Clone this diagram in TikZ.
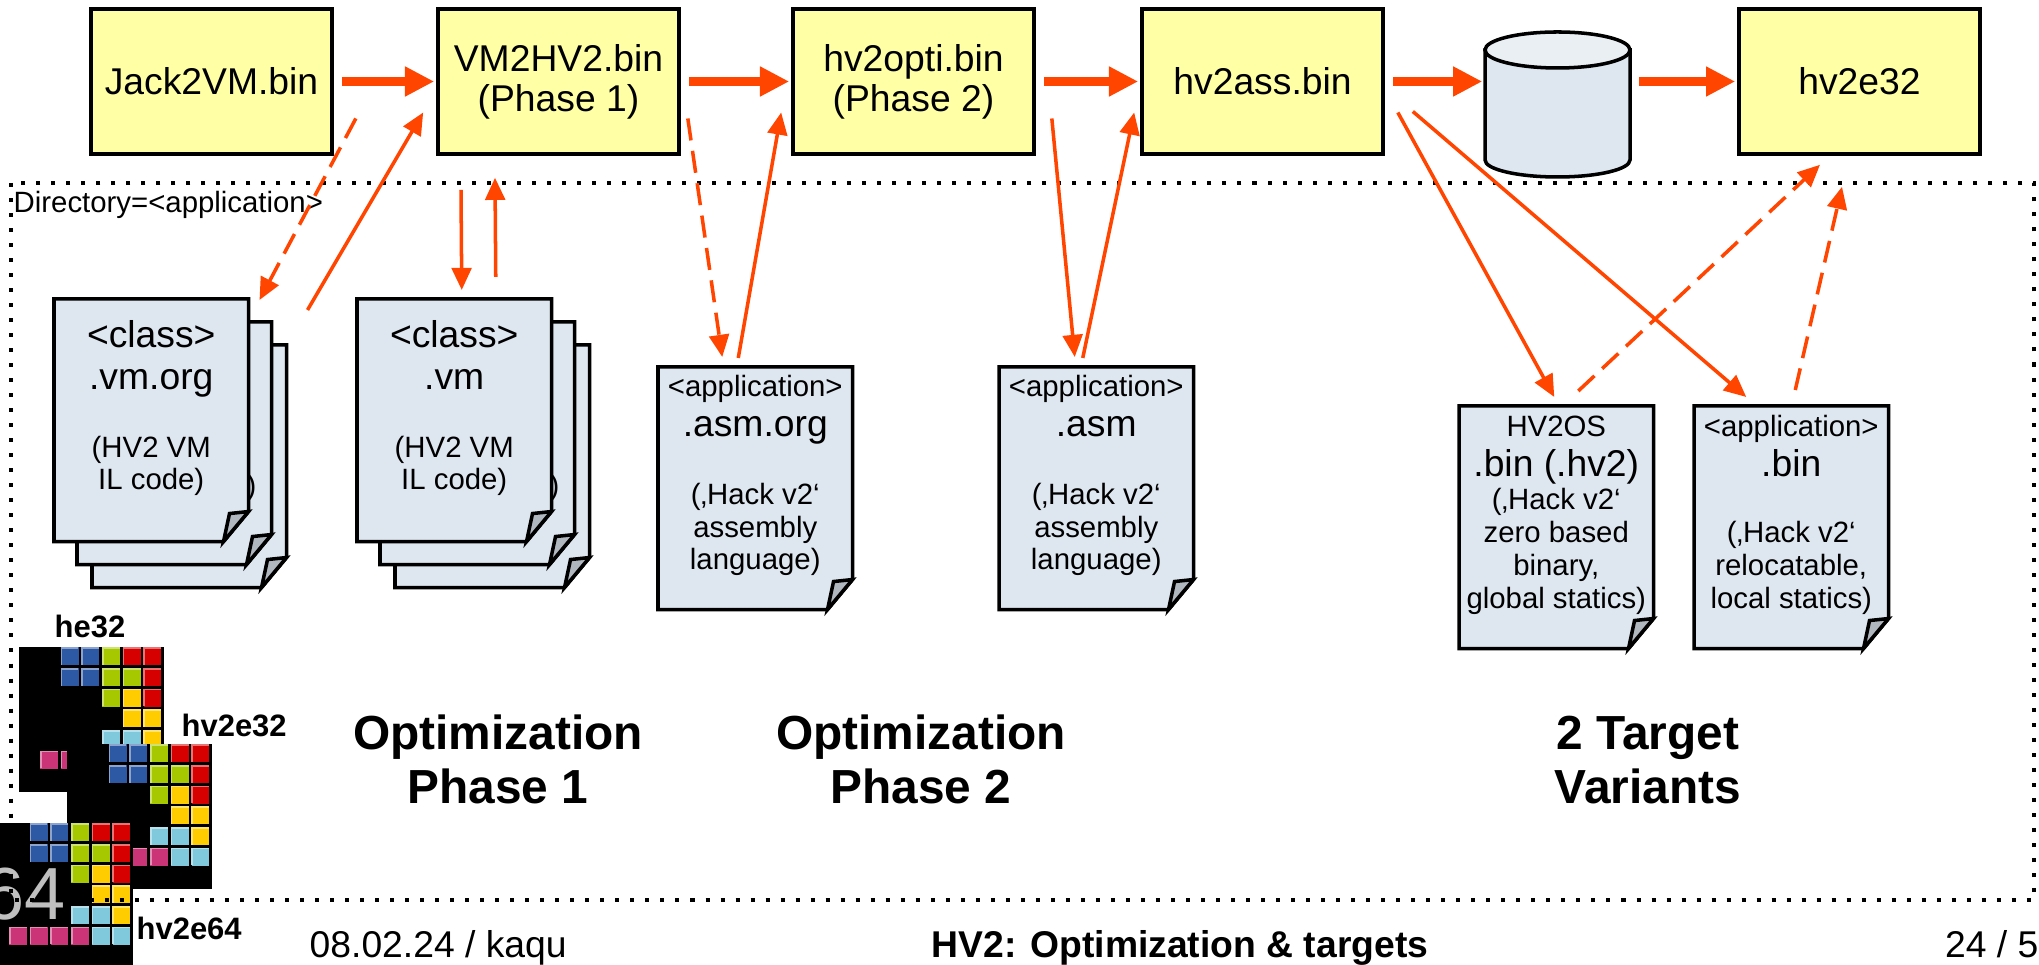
\documentclass[tikz,border=0pt]{standalone}
\usepackage{fontspec}
\setmainfont{Liberation Sans}
\usetikzlibrary{arrows.meta}

\definecolor{binfill}{RGB}{255,255,166}
\definecolor{pagefill}{RGB}{222,230,240}
\definecolor{foldfill}{RGB}{176,183,191}
\definecolor{disktop}{RGB}{234,239,244}
\definecolor{flow}{RGB}{255,69,0}
\definecolor{tblue}{RGB}{44,88,164}
\definecolor{tgreen}{RGB}{166,200,0}
\definecolor{tred}{RGB}{214,0,0}
\definecolor{tyellow}{RGB}{255,204,0}
\definecolor{tcyan}{RGB}{128,200,220}
\definecolor{tpink}{RGB}{204,52,120}

\tikzset{
    binbox/.style={draw, line width=1pt, fill=binfill, minimum width=2.41cm, minimum height=1.45cm,
        align=center, font=\fontsize{10.6}{11.4}\selectfont},
    bigflow/.style={flow, line width=2.3pt, -{Triangle[length=8.3pt,width=8pt]},
        shorten <=0.08cm, shorten >=0.02cm},
    flowline/.style={flow, line width=1pt, -{Triangle[length=6.3pt,width=5.6pt]}},
    flowdash/.style={flowline, dash pattern=on 6.3pt off 3pt},
    pageline/.style={draw, line width=1pt, fill=pagefill},
    dirline/.style={line width=1.14pt, dash pattern=on 1.14pt off 3.13pt},
    bigtext/.style={font=\fontsize{10.6}{12}\selectfont, anchor=base, inner sep=0pt},
    smalltext/.style={font=\fontsize{8.35}{10}\selectfont, anchor=base, inner sep=0pt},
    phase/.style={font=\bfseries\fontsize{13.6}{15.4}\selectfont, anchor=base, inner sep=0pt},
    logolabel/.style={font=\bfseries\fontsize{8.8}{10}\selectfont, anchor=base west, inner sep=0pt},
    footer/.style={font=\fontsize{10.6}{12}\selectfont, anchor=base, inner sep=0pt},
    footbold/.style={font=\bfseries\fontsize{10.6}{12}\selectfont, anchor=base, inner sep=0pt},
}

% one sheet, top left corner at #1,#2, with the lower right corner folded
\newcommand{\drawpage}[3]{
    \node[minimum width=1.93cm, minimum height=2.41cm, inner sep=0pt, anchor=north west] (#3) at (#1,#2) {};
    \draw[pageline] (#3.north west) -- (#3.north east) -- ([shift={(0,-30)}]#3.south east)
        -- ([shift={(-25,0)}]#3.south east) -- (#3.south west) -- cycle;
    \draw[line width=1pt, fill=foldfill] ([shift={(-25,0)}]#3.south east) -- ([shift={(0,-30)}]#3.south east)
        -- ([shift={(-19,-28)}]#3.south east) -- cycle;% the flap
}

% three sheets stacked, front sheet is #3
\newcommand{\drawstack}[3]{
    \drawpage{#1+38}{#2+46}{#3-c}
    \drawpage{#1+23}{#2+23}{#3-b}
    \node[smalltext, anchor=base east] (#3-b-tail) at ([shift={(180,174)}]#3-b.north west) {)};
    \drawpage{#1}{#2}{#3}
}

% lines of text on a sheet: #1 sheet, #2 tag, #3 style, #4 first baseline, #5 line step, #6 lines
\newcommand{\pagelines}[6]{
    \foreach \txt [count=\i from 0] in {#6}
        \node[#3] (#1-#2\i) at ([shift={(0,#4+#5*\i)}]#1.north) {\txt};
}

% tetris logo, 7x7 tiles on black
\newcommand{\drawlogo}[3]{
    \node[fill=black, minimum size=1.45cm, inner sep=0pt, anchor=north west] (#3) at (#1,#2) {};
    \foreach \col/\row/\tile in {2/0/tblue, 3/0/tblue, 4/0/tgreen, 5/0/tred, 6/0/tred,
                                 2/1/tblue, 3/1/tblue, 4/1/tgreen, 5/1/tgreen, 6/1/tred,
                                 4/2/tgreen, 5/2/tyellow, 6/2/tred,
                                 5/3/tyellow, 6/3/tyellow,
                                 4/4/tcyan, 5/4/tcyan, 6/4/tyellow,
                                 1/5/tpink, 2/5/tpink, 3/5/tpink, 4/5/tpink, 5/5/tcyan, 6/5/tcyan}{
        \fill[\tile] ([shift={(\col*20.7+1.5,\row*20.7+1.5)}]#3.north west) rectangle ++(17.7,17.7);
        \draw[\tile!55!white, line width=0.5pt] ([shift={(\col*20.7+2,\row*20.7+19)}]#3.north west) |- ++(17,-17);
    }
}

\begin{document}
\begin{tikzpicture}[x=0.01cm, y=-0.01cm]
    \useasboundingbox (0,0) rectangle (2039,965);
    \clip (0,0) rectangle (2039,965);

    % logos, bottom left
    \drawlogo{18}{646}{he32logo}
    \drawlogo{66}{743}{hv2e32logo}
    \drawlogo{-13}{822}{hv2e64logo}
    \node[font=\fontsize{21}{24}\selectfont, text=black!25, anchor=base east, inner sep=0pt] (sixtyfour) at (66,920) {64};

    \node[logolabel] (he32tag) at (54,638) {he32};
    \node[logolabel] (hv2e32tag) at (181,737) {hv2e32};
    \node[logolabel] (hv2e64tag) at (136,940) {hv2e64};

    % directory frame
    \draw[dirline] (11,183) rectangle (2034,900);
    \node[smalltext, anchor=base west] (dir) at (13,213) {Directory=<application>};

    % tool chain
    \node[binbox] (jack) at (211.5,81.5) {Jack2VM.bin};
    \node[binbox] (vm2hv2) at (558.5,81.5) {VM2HV2.bin\\(Phase 1)};
    \node[binbox] (opti) at (913.5,81.5) {hv2opti.bin\\(Phase 2)};
    \node[binbox] (ass) at (1262.5,81.5) {hv2ass.bin};
    \node[binbox] (hv2e32) at (1859.5,81.5) {hv2e32};

    % storage
    \node[minimum width=1.45cm, minimum height=1.45cm, inner sep=0pt] (store) at (1557.5,104.5) {};
    \draw[line width=1pt, fill=pagefill] (1485,50) -- (1485,160)
        arc[start angle=180, end angle=0, x radius=72.5, y radius=17] -- (1630,50) -- cycle;
    \draw[line width=1pt, fill=disktop] (1557.5,50) ellipse [x radius=72.5, y radius=18];

    \draw[bigflow] (jack) -- (vm2hv2);
    \draw[bigflow] (vm2hv2) -- (opti);
    \draw[bigflow] (opti) -- (ass);
    \draw[bigflow] (ass.east) -- (ass.east -| store.west);
    \draw[bigflow] (store.east |- hv2e32.west) -- (hv2e32.west);

    % files
    \drawstack{54}{299}{vmorg}
    \pagelines{vmorg}{h}{bigtext}{49}{42}{{<class>}, {.vm.org}}
    \pagelines{vmorg}{l}{smalltext}{159}{32}{{(HV2 VM}, {IL code)}}

    \drawstack{357}{299}{vm}
    \pagelines{vm}{h}{bigtext}{49}{42}{{<class>}, {.vm}}
    \pagelines{vm}{l}{smalltext}{159}{32}{{(HV2 VM}, {IL code)}}

    \drawpage{658}{367}{asmorg}
    \pagelines{asmorg}{t}{smalltext}{30}{0}{{<application>}}
    \pagelines{asmorg}{h}{bigtext}{70}{0}{{.asm.org}}
    \pagelines{asmorg}{l}{smalltext}{138}{32.5}{{(‚Hack v2‘}, {assembly}, {language)}}

    \drawpage{999}{367}{asm}
    \pagelines{asm}{t}{smalltext}{30}{0}{{<application>}}
    \pagelines{asm}{h}{bigtext}{70}{0}{{.asm}}
    \pagelines{asm}{l}{smalltext}{138}{32.5}{{(‚Hack v2‘}, {assembly}, {language)}}

    \drawpage{1459}{406}{hv2os}
    \pagelines{hv2os}{t}{smalltext}{31}{0}{{HV2OS}}
    \pagelines{hv2os}{h}{bigtext}{71}{0}{{.bin (.hv2)}}
    \pagelines{hv2os}{l}{smalltext}{104}{33}{{(‚Hack v2‘}, {zero based}, {binary,}, {global statics)}}

    \drawpage{1694}{406}{appbin}
    \pagelines{appbin}{t}{smalltext}{31}{0}{{<application>}}
    \pagelines{appbin}{h}{bigtext}{71}{0}{{.bin}}
    \pagelines{appbin}{l}{smalltext}{137}{33}{{(‚Hack v2‘}, {relocatable,}, {local statics)}}

    % reads and writes
    \draw[flowdash] ([shift={(22,37)}]jack.east) -- ([shift={(11,1)}]vmorg.north east);
    \draw[flowline] ([shift={(59,11)}]vmorg.north east) -- ([shift={(-13,31)}]vm2hv2.west);
    \draw[flowline] ([shift={(-97.5,34)}]vm2hv2.south) -- ([shift={(7.5,-9)}]vm.north);
    \draw[flowline] ([shift={(41.5,-22)}]vm.north) -- ([shift={(-63.5,22)}]vm2hv2.south);

    \draw[flowdash] ([shift={(7,37)}]vm2hv2.east) -- ([shift={(-33,-10)}]asmorg.north);
    \draw[flowline] ([shift={(-17,-9)}]asmorg.north) -- ([shift={(-10,31)}]opti.west);
    \draw[flowline] ([shift={(16,37)}]opti.east) -- ([shift={(-21.5,-10)}]asm.north);
    \draw[flowline] ([shift={(-13.5,-9)}]asm.north) -- ([shift={(-6,31)}]ass.west);

    \draw[flowline] ([shift={(13,31)}]ass.east) -- ([shift={(-2,-9)}]hv2os.north);
    \draw[flowline] ([shift={(28,30)}]ass.east) -- ([shift={(-45,-9)}]appbin.north);
    \draw[flowdash] ([shift={(22,-15)}]hv2os.north) -- ([shift={(-39.5,9)}]hv2e32.south);
    \draw[flowdash] ([shift={(4,-16)}]appbin.north) -- ([shift={(-17.5,31)}]hv2e32.south);

    % phase captions
    \node[phase] (opt1) at (498,750) {Optimization};
    \node[phase] (opt1b) at (498,804) {Phase 1};
    \node[phase] (opt2) at (921,750) {Optimization};
    \node[phase] (opt2b) at (921,804) {Phase 2};
    \node[phase] (targets) at (1648,750) {2 Target};
    \node[phase] (targetsb) at (1648,804) {Variants};

    % footer
    \node[footer, anchor=base west] (date) at (309,958) {08.02.24 / kaqu};
    \node[footbold] (title) at (1180,958) {HV2: Optimization \& targets};
    \node[footer, anchor=base east] (pageno) at (2039,958) {24 / 5};
\end{tikzpicture}
\end{document}
